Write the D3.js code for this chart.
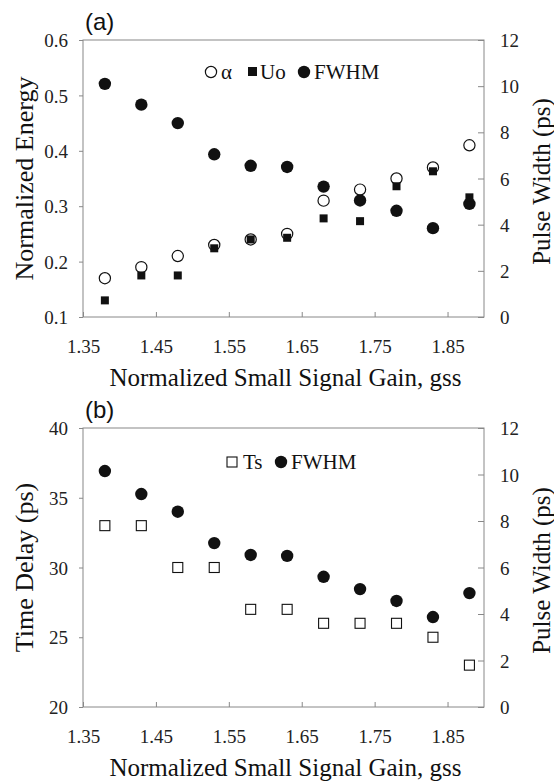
<!DOCTYPE html>
<html>
<head>
<meta charset="utf-8">
<script src="https://cdn.jsdelivr.net/npm/d3@7"></script>
<style>
  body { margin: 0; background: #fff; }
  svg { display: block; }
</style>
</head>
<body>
<svg id="chart" width="554" height="782"></svg>
<script>
// gain values (x) shared by both panels
var gss = [1.38, 1.43, 1.48, 1.53, 1.58, 1.63, 1.68, 1.73, 1.78, 1.83, 1.88]
var xTicks = [1.35, 1.45, 1.55, 1.65, 1.75, 1.85]

// panel (a)
var alphaA = [0.17, 0.19, 0.21, 0.23, 0.24, 0.25, 0.31, 0.33, 0.35, 0.37, 0.41]
var uoA = [0.13, 0.175, 0.175, 0.224, 0.24, 0.243, 0.278, 0.273, 0.336, 0.363, 0.316]
var fwhmA = [10.1, 9.2, 8.4, 7.05, 6.55, 6.5, 5.65, 5.05, 4.6, 3.85, 4.9]
var energyTicks = [0.1, 0.2, 0.3, 0.4, 0.5, 0.6]

// panel (b)
var tsB = [33, 33, 30, 30, 27, 27, 26, 26, 26, 25, 23]
var fwhmB = [10.15, 9.16, 8.4, 7.05, 6.54, 6.5, 5.6, 5.07, 4.56, 3.87, 4.9]
var delayTicks = [20, 25, 30, 35, 40]
var widthTicks = [0, 2, 4, 6, 8, 10, 12]

var svg = d3.select('#chart')
var serif = 'Liberation Serif'
var sans = 'Liberation Sans'

var left = 83
var width = 401

var x = d3.scaleLinear().domain([1.35, 1.9]).range([0, width])

// make d3 axis text look like the scanned figure
function styleAxis (a) {
  a.select('.domain').remove()
  a.attr('font-family', null).attr('font-size', null)
  a.selectAll('text')
    .style('font-family', serif).style('font-size', '19px')
    .attr('fill', '#222')
  a.selectAll('line').attr('stroke', '#888')
}

function panel (opts) {
  var top = opts.top
  var height = opts.height
  var g = svg.append('g').attr('transform', 'translate(' + left + ',' + top + ')')

  var yL = d3.scaleLinear().domain(opts.leftDomain).range([height, 0])
  var yR = d3.scaleLinear().domain([0, 12]).range([height, 0])

  // frame
  g.append('rect')
    .attr('width', width).attr('height', height)
    .attr('fill', 'none').attr('stroke', '#888').attr('stroke-width', 1)

  // bottom axis, ticks pointing inward
  var xa = g.append('g')
    .attr('transform', 'translate(0,' + height + ')')
    .call(d3.axisBottom(x).tickValues(xTicks).tickFormat(d3.format('.2f')).tickSizeInner(-5).tickSizeOuter(0))
  styleAxis(xa)
  xa.selectAll('text').attr('y', 36).attr('dy', 0)

  // left axis
  var ya = g.append('g')
    .call(d3.axisLeft(yL).tickValues(opts.leftTicks).tickFormat(opts.leftFormat).tickSizeInner(4).tickSizeOuter(0))
  styleAxis(ya)
  ya.selectAll('text').attr('x', -15).attr('dy', '0.35em')

  // right axis, ticks inward
  var ra = g.append('g')
    .attr('transform', 'translate(' + width + ',0)')
    .call(d3.axisRight(yR).tickValues(widthTicks).tickSizeInner(-6).tickSizeOuter(0).tickPadding(16))
  styleAxis(ra)
  ra.selectAll('text').attr('dy', '0.35em')

  // axis titles
  g.append('text')
    .attr('x', width / 2 + 2).attr('y', height + 69)
    .attr('text-anchor', 'middle')
    .style('font-family', serif).style('font-size', '25px').attr('fill', '#111')
    .text('Normalized Small Signal Gain, gss')
  g.append('text')
    .attr('transform', 'translate(' + (33 - left) + ',' + (height / 2) + ') rotate(-90)')
    .attr('text-anchor', 'middle')
    .style('font-family', serif).style('font-size', '26px').attr('fill', '#111')
    .text(opts.leftTitle)
  g.append('text')
    .attr('transform', 'translate(' + (550 - left) + ',' + (height / 2 + 3) + ') rotate(-90)')
    .attr('text-anchor', 'middle')
    .style('font-family', serif).style('font-size', '25px').attr('fill', '#111')
    .text('Pulse Width (ps)')

  // panel letter
  g.append('text')
    .attr('x', 2).attr('y', -10)
    .style('font-family', sans).style('font-size', '24px').attr('fill', '#111')
    .text(opts.label)

  return { g: g, yL: yL, yR: yR }
}

// ---- panel (a)
var pa = panel({
  top: 40, height: 277,
  leftDomain: [0.1, 0.6], leftTicks: energyTicks, leftFormat: d3.format('.1f'),
  leftTitle: 'Normalized Energy', label: '(a)'
})

pa.g.append('g').selectAll('circle').data(gss).join('circle')
  .attr('cx', (d) => x(d)).attr('cy', (d, i) => pa.yL(alphaA[i]))
  .attr('r', 5.6).attr('fill', '#fff').attr('stroke', '#111').attr('stroke-width', 1.2)

pa.g.append('g').selectAll('circle').data(gss).join('circle')
  .attr('cx', (d) => x(d)).attr('cy', (d, i) => pa.yR(fwhmA[i]))
  .attr('r', 6.2).attr('fill', '#111')

pa.g.append('g').selectAll('rect').data(gss).join('rect')
  .attr('x', (d) => x(d) - 4).attr('y', (d, i) => pa.yL(uoA[i]) - 4)
  .attr('width', 8).attr('height', 8).attr('fill', '#111')

// legend (a)
var la = svg.append('g').style('font-family', serif).style('font-size', '21px').attr('fill', '#111')
la.append('circle').attr('cx', 211).attr('cy', 72).attr('r', 5.6)
  .attr('fill', '#fff').attr('stroke', '#111').attr('stroke-width', 1.2)
la.append('text').attr('x', 221).attr('y', 79).text('α')
la.append('rect').attr('x', 248).attr('y', 67).attr('width', 9).attr('height', 9).attr('fill', '#111')
la.append('text').attr('x', 260).attr('y', 79).text('Uo')
la.append('circle').attr('cx', 304).attr('cy', 72).attr('r', 6.2).attr('fill', '#111')
la.append('text').attr('x', 314).attr('y', 79).text('FWHM')

// ---- panel (b)
var pb = panel({
  top: 428, height: 279,
  leftDomain: [20, 40], leftTicks: delayTicks, leftFormat: d3.format('d'),
  leftTitle: 'Time Delay (ps)', label: '(b)'
})

pb.g.append('g').selectAll('rect').data(gss).join('rect')
  .attr('x', (d) => x(d) - 5).attr('y', (d, i) => pb.yL(tsB[i]) - 5)
  .attr('width', 10).attr('height', 10)
  .attr('fill', '#fff').attr('stroke', '#111').attr('stroke-width', 1.1)

pb.g.append('g').selectAll('circle').data(gss).join('circle')
  .attr('cx', (d) => x(d)).attr('cy', (d, i) => pb.yR(fwhmB[i]))
  .attr('r', 6.2).attr('fill', '#111')

// legend (b)
var lb = svg.append('g').style('font-family', serif).style('font-size', '21px').attr('fill', '#111')
lb.append('rect').attr('x', 227).attr('y', 457).attr('width', 10).attr('height', 10)
  .attr('fill', '#fff').attr('stroke', '#111').attr('stroke-width', 1.1)
lb.append('text').attr('x', 243).attr('y', 469).text('Ts')
lb.append('circle').attr('cx', 281).attr('cy', 462).attr('r', 6.2).attr('fill', '#111')
lb.append('text').attr('x', 291).attr('y', 469).text('FWHM')
</script>
</body>
</html>
